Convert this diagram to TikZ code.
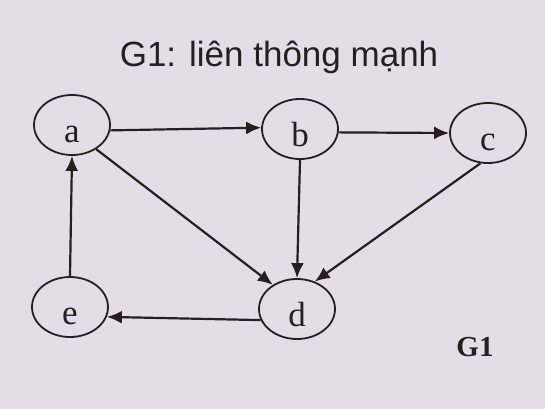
\documentclass[tikz,border=0pt]{standalone}
\usepackage{fontspec}
\setmainfont{Liberation Serif}
\newfontfamily\titlefont{Liberation Sans}
\usetikzlibrary{shapes.geometric,arrows.meta}
\definecolor{bgc}{RGB}{228,221,231}
\definecolor{ink}{RGB}{40,30,32}
\tikzset{
  vert/.style={ellipse,draw=ink,line width=1.8pt,minimum width=76pt,minimum height=60pt,inner sep=0pt,text=ink,text height=34pt,text depth=0pt,font=\fontsize{35}{37}\selectfont},
  edge/.style={draw=ink,line width=2.2pt,-{Latex[length=15pt,width=13pt]}}
}
\begin{document}
\begin{tikzpicture}[x=1pt,y=-1pt]
\fill[bgc] (0,0) rectangle (545,409);
\useasboundingbox (0,0) rectangle (545,409);
\node[anchor=base,text=ink,font=\titlefont\fontsize{35}{38}\selectfont] (title) at (279,67) {G1: liên thông mạnh};
\node[vert] (a) at (72,125) {a};
\node[vert] (b) at (300,129) {b};
\node[vert] (c) at (488,133) {c};
\node[vert] (e) at (70,307) {e};
\node[vert] (d) at (297,309) {d};
\node[anchor=base,text=ink,font=\bfseries\fontsize{29}{31}\selectfont] (g) at (475,356) {G1};
\draw[edge] (a.-8) -- (b.178);
\draw[edge] (b.-5) -- (c.180);
\draw[edge] (a.315) -- (d.135);
\draw[edge] (b.south) -- (d.north);
\draw[edge] (c.256) -- (d.57);
\draw[edge] (d.197) -- (e.-15);
\draw[edge] (e.north) -- (a.south);
\end{tikzpicture}
\end{document}
